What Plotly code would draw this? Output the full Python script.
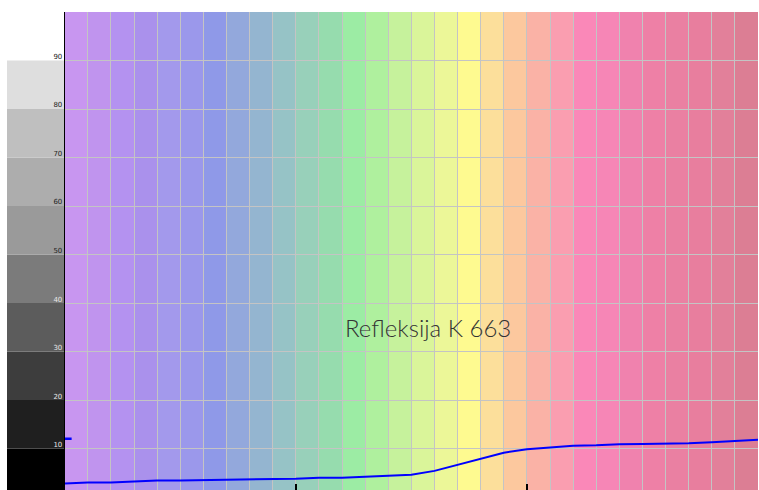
import plotly.graph_objects as go

# Spectral bands (nm, 10 nm wide) and their colours
band_starts = list(range(400, 700, 10))
band_colors = [
    "#c896f0", "#c094ee", "#b492f0", "#aa91ec", "#a399ec", "#9b98eb",
    "#8f99e8", "#93a8dc", "#94b5d0", "#96c3c6", "#98d0ba", "#96dcae",
    "#9ceca4", "#aff09e", "#c6f29c", "#daf59a", "#ecf798", "#fefa90",
    "#fcdf9b", "#fcc89e", "#fab2a6", "#fa9eb0", "#fa88b8", "#f686b6",
    "#f082ae", "#ee80a6", "#ea80a2", "#e87e9e", "#e2809a", "#dc7e94",
]

# Grey scale column
gray_bases = [0, 10, 20, 30, 40, 50, 60, 70, 80]
gray_heights = [10] * 9
gray_colors = ["#000000", "#1f1f1f", "#3d3d3d", "#5c5c5c", "#7b7b7b",
               "#9a9a9a", "#adadad", "#bfbfbf", "#dedede"]

# Reflectance curve
wavelengths = [400, 410, 420, 430, 440, 450, 460, 470, 480, 490, 500,
               510, 520, 530, 540, 550, 560, 570, 580, 590, 600,
               610, 620, 630, 640, 650, 660, 670, 680, 690, 700]
reflectance = [2.8, 3.0, 3.0, 3.2, 3.4, 3.4, 3.45, 3.55, 3.6, 3.75, 3.8,
               4.0, 4.0, 4.2, 4.45, 4.6, 5.4, 6.6, 7.8, 9.15, 9.85,
               10.27, 10.6, 10.68, 10.9, 10.95, 10.95, 11.1, 11.3, 11.57, 11.84]

# Small marker segment at left
marker_x = [400, 403]
marker_y = [12, 12]

y_ticks = [10, 20, 30, 40, 50, 60, 70, 80, 90]
y_tick_colors = ["#e8e8e8", "#e8e8e8", "#e8e8e8", "#e8e8e8", "#222222",
                 "#222222", "#222222", "#222222", "#222222"]
y_tick_text = [f'<span style="color:{c}">{v}</span>' for v, c in zip(y_ticks, y_tick_colors)]

x_major_ticks = [500, 600]
title_text = "Refleksija K 663"

fig = go.Figure()

fig.add_trace(go.Scatter(
    x=wavelengths, y=reflectance, mode="lines",
    line=dict(color="#0000ff", width=2), showlegend=False,
))
fig.add_trace(go.Scatter(
    x=marker_x, y=marker_y, mode="lines",
    line=dict(color="#0000ff", width=2.5), showlegend=False,
))

split = (64.7 - 7) / 751

shapes = []
for s, c in zip(band_starts, band_colors):
    shapes.append(dict(type="rect", xref="x", yref="paper", x0=s, x1=s + 10,
                       y0=0, y1=1, fillcolor=c, line=dict(width=0), layer="below"))
for b, h, c in zip(gray_bases, gray_heights, gray_colors):
    shapes.append(dict(type="rect", xref="paper", yref="y", x0=0, x1=split,
                       y0=b, y1=b + h, fillcolor=c, line=dict(width=0), layer="below"))

fig.update_layout(
    width=759, height=490,
    margin=dict(l=7, r=1, t=12, b=0),
    paper_bgcolor="white", plot_bgcolor="rgba(0,0,0,0)",
    shapes=shapes,
    xaxis=dict(domain=[split, 1], range=[400, 700],
               tickvals=x_major_ticks, ticks="inside", ticklen=6, tickwidth=2,
               tickcolor="black", showticklabels=False,
               showgrid=True, gridcolor="#c4c4c4", gridwidth=1,
               minor=dict(dtick=10, tick0=400, showgrid=True, gridcolor="#c4c4c4",
                          gridwidth=1, ticks=""),
               zeroline=False, showline=False),
    yaxis=dict(range=[1.46, 100], anchor="x", tickvals=y_ticks, ticktext=y_tick_text,
               tickfont=dict(size=7, family="DejaVu Sans"),
               ticks="", showgrid=True, gridcolor="#c4c4c4", gridwidth=1,
               showline=True, linecolor="black", linewidth=1,
               zeroline=False, ticklabelshift=-4, ticklabelstandoff=0,
               automargin=False),
    annotations=[dict(text=title_text, x=557, y=35, xref="x", yref="y",
                      showarrow=False,
                      font=dict(size=24, color="#333333", family="Lato", weight=300))],
)

fig.write_html("out.html", config={"displayModeBar": False},
               post_script="document.body.style.margin='0';document.body.style.padding='0';")
